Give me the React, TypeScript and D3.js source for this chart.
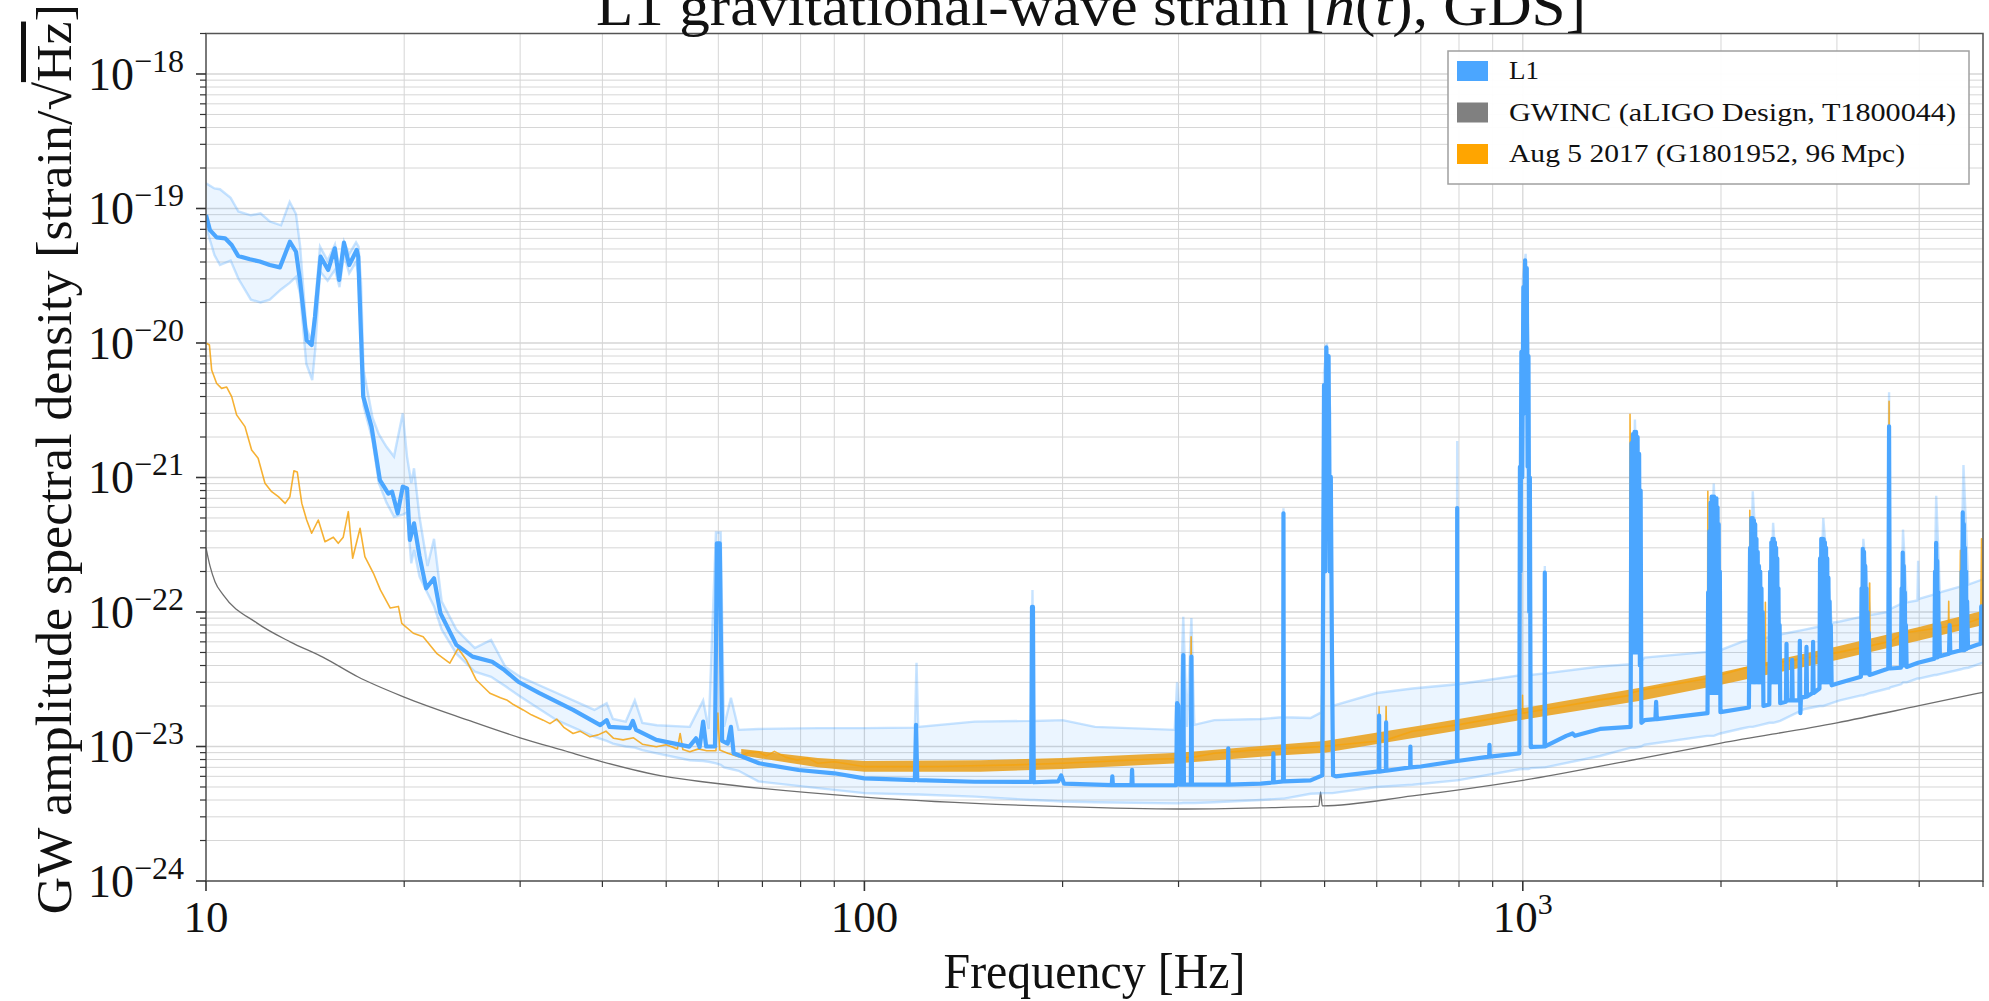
import React from "react";
import * as d3 from "d3";

type P = [number, number];
type B = [number, number, number];

const X_DOMAIN: [number, number] = [10, 5000];
const Y_DOMAIN: [number, number] = [1e-24, 2e-18];

const TITLE_PARTS = ["L1 gravitational-wave strain [", "h", "(", "t", "), GDS]"];
const X_LABEL = "Frequency [Hz]";
const Y_LABEL_MAIN = "GW amplitude spectral density [strain/\u221A";
const Y_LABEL_ROOT = "Hz";
const Y_LABEL_END = "]";
const LEGEND_LABELS = ["L1", "GWINC (aLIGO Design, T1800044)", "Aug 5 2017 (G1801952, 96\u2009Mpc)"];
const LEGEND_COLORS = ["#4ba6ff", "#808080", "#ffa500"];

const X_TICK_VALUES = [10, 100, 1000];
const X_TICK_BASE = ["10", "100", "10"];
const X_TICK_SUP = ["", "", "3"];
const Y_TICK_EXP = [-24, -23, -22, -21, -20, -19, -18];

// GWINC design curve
const gwinc: P[] = [
  [10, 3.0e-22], [10.14, 2.2e-22], [10.32, 1.68e-22], [10.62, 1.34e-22], [11.94, 8.3e-23],
  [13.42, 6.0e-23], [15.07, 4.6e-23], [17, 3.3e-23], [20, 2.33e-23], [25, 1.57e-23],
  [30, 1.16e-23], [35, 9.3e-24], [40, 7.7e-24], [50, 5.96e-24], [58, 5.4e-24],
  [100, 4.2e-24], [200, 3.57e-24], [300, 3.43e-24], [400, 3.5e-24], [490, 3.6e-24],
  [493, 4.6e-24], [496, 3.62e-24], [680, 4.29e-24], [1000, 5.6e-24], [1500, 8.1e-24],
  [2000, 1.06e-23], [3000, 1.5e-23], [4000, 2.01e-23], [5000, 2.53e-23],
];

// Reference (Aug 5 2017) curve
const reference: P[] = [
  [10, 1.0e-20], [10.12, 9.66e-21], [10.2, 6.3e-21], [10.38, 5.0e-21], [10.56, 4.6e-21],
  [10.75, 4.7e-21], [10.94, 3.99e-21], [11.13, 2.92e-21], [11.46, 2.39e-21], [11.73, 1.6e-21],
  [12.0, 1.39e-21], [12.29, 9.06e-22], [12.58, 7.84e-22], [12.88, 7.2e-22], [13.19, 6.42e-22],
  [13.41, 7.2e-22], [13.6, 1.12e-21], [13.76, 1.1e-21], [13.98, 6.42e-22], [14.22, 4.83e-22],
  [14.47, 3.85e-22], [14.81, 4.83e-22], [15.16, 3.33e-22], [15.61, 3.6e-22], [15.88, 3.24e-22],
  [16.16, 3.6e-22], [16.45, 5.57e-22], [16.7, 2.51e-22], [17.14, 4.19e-22], [17.43, 2.58e-22],
  [17.96, 1.94e-22], [18.4, 1.46e-22], [19.05, 1.07e-22], [19.6, 1.1e-22], [19.83, 8.24e-23],
  [20.65, 6.95e-23], [21.37, 6.55e-23], [22.4, 4.93e-23], [23.46, 4.16e-23], [24.15, 5.37e-23],
  [24.85, 4.4e-23], [25.74, 3.12e-23], [26.99, 2.49e-23], [28.0, 2.3e-23], [28.62, 2.22e-23],
  [29.3, 2.05e-23], [30.32, 1.87e-23], [31.2, 1.72e-23], [32.52, 1.57e-23], [33.3, 1.48e-23],
  [34.1, 1.6e-23], [35.0, 1.38e-23], [36.1, 1.25e-23], [37.0, 1.3e-23], [38.3, 1.18e-23],
  [39.4, 1.22e-23], [40.5, 1.3e-23], [41.6, 1.15e-23], [43.0, 1.12e-23], [44.6, 1.16e-23],
  [46.0, 1.04e-23], [48.3, 9.97e-24], [50.0, 1.03e-23], [52.0, 9.6e-24], [52.5, 1.25e-23],
  [53.0, 9.5e-24], [54.3, 9.14e-24], [56.0, 9.6e-24], [57.6, 9.3e-24], [59.5, 9.3e-24],
  [59.9, 1.77e-23], [60.3, 9.4e-24], [62.0, 8.9e-24], [64.4, 8.4e-24], [66.5, 9.0e-24],
  [69, 9.1e-24], [71, 8.5e-24], [73, 9.2e-24], [76, 8.3e-24], [79, 7.94e-24],
  [82, 8.2e-24], [85, 7.5e-24], [90, 7.7e-24], [100, 7.08e-24], [129, 7.1e-24],
  [170, 7.3e-24], [200, 7.5e-24], [257, 7.94e-24], [296, 8.15e-24], [312.5, 8.3e-24],
  [313.5, 6.55e-23], [314.5, 8.3e-24], [340, 8.9e-24], [390, 9.4e-24], [476, 9.9e-24],
  [494, 1.0e-23], [495, 2.4e-23], [496, 1.0e-23], [604, 1.1e-23], [605, 1.98e-23],
  [606, 1.1e-23], [619, 1.12e-23], [620, 1.98e-23], [621, 1.12e-23], [680, 1.3e-23],
  [805, 1.46e-23], [990, 1.76e-23], [998, 1.77e-23], [999, 2.4e-23], [1000, 1.77e-23],
  [1310, 2.22e-23], [1453, 2.4e-23], [1455, 2.95e-21], [1457, 1.3e-21], [1459, 2.5e-23],
  [1531, 2.65e-23], [1888, 3.18e-23], [1908, 3.2e-23], [1910, 7.9e-22], [1912, 3.2e-23],
  [2190, 3.87e-23], [2210, 3.9e-23], [2212, 5.7e-22], [2215, 3.9e-23], [2333, 4.0e-23],
  [2336, 1.18e-22], [2339, 4.05e-23], [3030, 5.03e-23], [3360, 5.6e-23], [3364, 1.64e-22],
  [3368, 5.6e-23], [3590, 6.0e-23], [3600, 3.68e-21], [3610, 6.0e-23], [3790, 6.98e-23],
  [4430, 7.8e-23], [4435, 1.2e-22], [4440, 7.8e-23], [4610, 8.0e-23], [4620, 2.87e-22],
  [4630, 8.0e-23], [4960, 9.0e-23], [4975, 3.5e-22], [4990, 9.0e-23], [5000, 9.08e-23],
];

// Reference noise envelope above ~65 Hz (frequency, low, high)
const referenceSpread: B[] = [
  [65, 8.6e-24, 9.6e-24], [85, 7.0e-24, 8.2e-24], [100, 6.5e-24, 7.8e-24],
  [150, 6.5e-24, 7.9e-24], [200, 6.8e-24, 8.2e-24], [300, 7.5e-24, 9.0e-24],
  [400, 8.4e-24, 1.01e-23], [500, 9.0e-24, 1.1e-23], [700, 1.18e-23, 1.43e-23],
  [1000, 1.58e-23, 1.93e-23], [1500, 2.18e-23, 2.72e-23], [2000, 2.88e-23, 3.57e-23],
  [3000, 4.4e-23, 5.55e-23], [4000, 6.15e-23, 7.75e-23], [5000, 8.0e-23, 1.02e-22],
];

// L1 percentile band (frequency, low, high)
const l1Band: B[] = [
  [10, 7.3e-20, 1.54e-19], [10.3, 4.5e-20, 1.41e-19], [10.5, 3.8e-20, 1.39e-19],
  [10.9, 4.1e-20, 1.2e-19], [11.2, 3.0e-20, 9.5e-20], [11.7, 2.1e-20, 8.9e-20],
  [12.1, 2.0e-20, 9.2e-20], [12.5, 2.1e-20, 8.0e-20], [13.0, 2.5e-20, 7.5e-20],
  [13.4, 2.8e-20, 1.12e-19], [13.7, 3.1e-20, 9.1e-20], [13.9, 2.3e-20, 5.2e-20],
  [14.2, 7.0e-21, 1.3e-20], [14.5, 5.3e-21, 1.0e-20], [14.65, 8.9e-21, 2.0e-20],
  [14.9, 3.4e-20, 5.2e-20], [15.3, 2.9e-20, 4.1e-20], [15.7, 3.5e-20, 5.4e-20],
  [15.95, 2.6e-20, 3.6e-20], [16.2, 4.5e-20, 5.7e-20], [16.5, 3.3e-20, 4.6e-20],
  [16.9, 4.0e-20, 5.6e-20], [17.05, 3.2e-20, 5.2e-20], [17.2, 1.2e-20, 2.8e-20],
  [17.35, 3.4e-21, 6.3e-21], [17.9, 1.9e-21, 2.8e-21], [18.3, 9.1e-22, 2.1e-21],
  [18.8, 6.5e-22, 1.69e-21], [19.3, 5.1e-22, 1.43e-21], [19.9, 5.3e-22, 3.0e-21],
  [20.2, 5.5e-22, 1.43e-21], [20.5, 2.3e-22, 9.1e-22], [20.7, 2.9e-22, 1.17e-21],
  [21.1, 1.83e-22, 5.1e-22], [21.7, 1.38e-22, 2.2e-22], [22.2, 1.1e-22, 3.5e-22],
  [22.8, 7.4e-23, 1.2e-22], [24.0, 4.9e-23, 7.4e-23], [25.6, 3.6e-23, 5.4e-23],
  [27.1, 3.3e-23, 6.2e-23], [28.5, 2.8e-23, 3.9e-23], [30.0, 2.35e-23, 3.3e-23],
  [34.1, 1.57e-23, 2.5e-23], [38.9, 1.18e-23, 1.87e-23], [40.6, 1.1e-23, 2.1e-23],
  [41.5, 1.05e-23, 1.6e-23], [43.4, 1.0e-23, 1.53e-23], [44.8, 9.8e-24, 2.2e-23],
  [46, 9.4e-24, 1.5e-23], [48.4, 8.9e-24, 1.44e-23], [54.3, 7.9e-24, 1.4e-23],
  [56.9, 7.8e-24, 2.2e-23], [58, 7.7e-24, 1.35e-23], [59.5, 7.5e-24, 3.9e-22],
  [60.5, 7.3e-24, 3.9e-22], [61.2, 7.0e-24, 1.4e-23], [62.7, 6.8e-24, 2.3e-23],
  [64.4, 6.6e-24, 1.33e-23], [69, 5.5e-24, 1.35e-23], [85, 4.9e-24, 1.37e-23],
  [100, 4.5e-24, 1.37e-23], [119.3, 4.4e-24, 1.38e-23], [120, 4.4e-24, 4.2e-23],
  [120.7, 4.4e-24, 1.4e-23], [147, 4.24e-24, 1.53e-23], [179, 4.0e-24, 1.55e-23],
  [180, 4.0e-24, 1.46e-22], [181, 4.0e-24, 1.55e-23], [200, 3.9e-24, 1.57e-23],
  [224, 3.85e-24, 1.4e-23], [296, 3.78e-24, 1.33e-23], [298.5, 3.78e-24, 3.0e-23],
  [301, 3.78e-24, 1.35e-23], [305, 3.8e-24, 9.2e-23], [309, 3.8e-24, 1.4e-23],
  [313.8, 3.8e-24, 9.0e-23], [317, 3.8e-24, 1.45e-23], [340, 3.85e-24, 1.57e-23],
  [400, 4.0e-24, 1.6e-23], [432, 4.1e-24, 1.65e-23], [433, 4.1e-24, 5.9e-22],
  [434, 4.1e-24, 1.65e-23], [476, 4.45e-24, 1.63e-23], [495, 4.49e-24, 1.8e-23],
  [499, 4.5e-24, 6e-21], [504, 4.5e-24, 9.9e-21], [510, 4.5e-24, 3e-21],
  [514, 4.5e-24, 2.0e-23], [600, 5.0e-24, 2.5e-23], [680, 5.19e-24, 2.7e-23],
  [794, 5.6e-24, 2.9e-23], [795, 5.6e-24, 1.87e-21], [796, 5.6e-24, 2.9e-23],
  [988, 6.78e-24, 3.38e-23], [1000, 6.8e-24, 3.0e-20], [1010, 6.8e-24, 4.6e-20],
  [1020, 6.8e-24, 1e-20], [1028, 6.9e-24, 3.4e-23], [1079, 7.0e-24, 3.5e-23],
  [1080, 7.0e-24, 2.2e-22], [1081, 7.0e-24, 3.5e-23], [1310, 8.5e-24, 3.93e-23],
  [1460, 9.8e-24, 4.1e-23], [1480, 9.8e-24, 2.7e-21], [1512, 1.0e-23, 4.3e-23],
  [1531, 1.03e-23, 4.58e-23], [1905, 1.2e-23, 5.04e-23], [1950, 1.2e-23, 9e-22],
  [1995, 1.25e-23, 5.2e-23], [2150, 1.36e-23, 6.0e-23], [2210, 1.4e-23, 6.2e-23],
  [2235, 1.4e-23, 7.9e-22], [2300, 1.45e-23, 6.3e-23], [2370, 1.5e-23, 6.5e-23],
  [2400, 1.5e-23, 4.6e-22], [2460, 1.55e-23, 6.8e-23], [2680, 1.9e-23, 7.4e-23],
  [2825, 2.0e-23, 7.8e-23], [2860, 2.0e-23, 5e-22], [2945, 2.1e-23, 8.3e-23],
  [3030, 2.2e-23, 8.5e-23], [3265, 2.4e-23, 9.2e-23], [3290, 2.4e-23, 3.5e-22],
  [3370, 2.5e-23, 9.5e-23], [3585, 2.7e-23, 1.0e-22], [3600, 2.7e-23, 4.3e-21],
  [3615, 2.75e-23, 1.05e-22], [3755, 2.9e-23, 1.15e-22], [3780, 3.0e-23, 4.1e-22],
  [3830, 3.0e-23, 1.18e-22], [3975, 3.2e-23, 1.22e-22], [3985, 3.2e-23, 2.4e-22],
  [3995, 3.2e-23, 1.25e-22], [4220, 3.4e-23, 1.35e-22], [4245, 3.4e-23, 7.3e-22],
  [4300, 3.45e-23, 1.4e-22], [4630, 3.75e-23, 1.55e-22], [4670, 3.8e-23, 1.24e-21],
  [4750, 3.85e-23, 1.6e-22], [5000, 4.2e-23, 1.75e-22],
];

// L1 median ASD
const l1Median: P[] = [
  [10, 8.95e-20], [10.14, 6.9e-20], [10.38, 6.1e-20], [10.69, 6.0e-20], [10.94, 5.35e-20],
  [11.19, 4.44e-20], [11.66, 4.19e-20], [12.07, 4.03e-20], [12.5, 3.8e-20], [12.95, 3.65e-20],
  [13.41, 5.66e-20], [13.7, 4.77e-20], [13.89, 2.94e-20], [14.22, 1.05e-20], [14.47, 9.66e-21],
  [14.64, 1.57e-20], [14.93, 4.38e-20], [15.33, 3.49e-20], [15.69, 5.06e-20], [15.93, 2.94e-20],
  [16.2, 5.57e-20], [16.5, 3.8e-20], [16.94, 4.91e-20], [17.03, 4.38e-20], [17.33, 3.99e-21],
  [17.84, 2.39e-21], [18.37, 9.57e-22], [18.92, 7.6e-22], [19.17, 7.84e-22], [19.55, 5.42e-22],
  [19.9, 8.55e-22], [20.2, 8.3e-22], [20.4, 3.43e-22], [20.7, 4.56e-22], [21.1, 2.6e-22],
  [21.6, 1.5e-22], [22.2, 1.78e-22], [22.7, 9.8e-23], [24.0, 5.7e-23], [25.4, 4.66e-23],
  [27.2, 4.27e-23], [28.4, 3.7e-23], [29.8, 3.03e-23], [32.1, 2.49e-23], [36.1, 1.87e-23],
  [39.7, 1.44e-23], [40.6, 1.57e-23], [41.0, 1.4e-23], [44.0, 1.37e-23], [44.5, 1.55e-23],
  [45.0, 1.33e-23], [48.3, 1.12e-23], [54.2, 9.97e-24], [55.5, 1.15e-23], [56.2, 9.9e-24],
  [56.9, 1.53e-23], [57.5, 1.0e-23], [59.3, 1.0e-23], [59.7, 3.24e-22], [60.3, 3.24e-22],
  [60.8, 1.1e-23], [62.0, 1.05e-23], [62.7, 1.4e-23], [63.3, 8.9e-24], [69.2, 7.5e-24],
  [79.4, 6.69e-24], [90, 6.32e-24], [100, 5.8e-24], [119.3, 5.63e-24], [119.8, 1.45e-23],
  [120.3, 5.63e-24], [147, 5.47e-24], [179.2, 5.45e-24], [179.7, 1.09e-22], [180.3, 1.09e-22],
  [180.8, 5.42e-24], [197, 5.5e-24], [199, 6.1e-24], [201, 5.3e-24], [237.5, 5.17e-24],
  [238, 6.0e-24], [238.5, 5.17e-24], [254.5, 5.17e-24], [255, 6.7e-24], [255.5, 5.16e-24],
  [297.5, 5.15e-24], [298.5, 2.1e-23], [300, 2.0e-23], [301, 5.2e-24], [304.3, 5.2e-24],
  [305, 4.79e-23], [305.7, 5.2e-24], [313.2, 5.2e-24], [313.8, 4.66e-23], [314.4, 5.2e-24],
  [356.5, 5.2e-24], [357, 9.7e-24], [357.5, 5.2e-24], [400, 5.3e-24], [417.5, 5.4e-24],
  [418, 8.9e-24], [418.5, 5.4e-24], [432.5, 5.5e-24], [433, 5.42e-22], [433.5, 5.5e-24],
  [476, 5.6e-24], [496, 6.1e-24], [499, 4.87e-21], [501, 2e-22], [503, 9.3e-21],
  [505, 5e-22], [507, 8e-21], [509, 2e-22], [511, 1.01e-21], [513, 5e-23],
  [515, 6.1e-24], [520, 6.0e-24], [600, 6.5e-24], [604.5, 6.5e-24], [605, 1.7e-23],
  [605.5, 6.5e-24], [619.5, 6.6e-24], [620, 1.51e-23], [620.5, 6.6e-24], [674.5, 7.0e-24],
  [675, 9.97e-24], [675.5, 7.0e-24], [700, 7.1e-24], [794.5, 7.8e-24], [795, 5.93e-22],
  [795.5, 7.8e-24], [889, 8.4e-24], [890, 1.03e-23], [891, 8.4e-24], [988, 8.9e-24],
  [990, 1.2e-21], [992, 2e-22], [995, 8.6e-21], [998, 1e-21], [1002, 2.6e-20],
  [1005, 3e-21], [1008, 4.12e-20], [1011, 5e-21], [1014, 3.6e-20], [1017, 1.2e-21],
  [1020, 8e-21], [1023, 1e-22], [1025, 1.0e-21], [1028, 9.9e-24], [1037, 9.93e-24],
  [1079, 1.0e-23], [1080, 1.96e-22], [1081, 1.0e-23], [1164, 1.2e-23], [1190, 1.25e-23],
  [1200, 1.2e-23], [1310, 1.35e-23], [1458, 1.4e-23], [1462, 1.8e-21], [1466, 5e-23],
  [1470, 2.1e-21], [1474, 5e-23], [1478, 2.18e-21], [1482, 5e-23], [1486, 2.18e-21],
  [1490, 5e-23], [1494, 2.0e-21], [1498, 5e-23], [1502, 1.5e-21], [1506, 4e-23],
  [1510, 8e-22], [1514, 1.5e-23], [1531, 1.57e-23], [1590, 1.6e-23], [1594, 2.15e-23],
  [1598, 1.6e-23], [1908, 1.77e-23], [1912, 1.4e-22], [1916, 2.5e-23], [1920, 4e-22],
  [1924, 2.5e-23], [1928, 6.5e-22], [1932, 2.5e-23], [1936, 7.2e-22], [1940, 2.5e-23],
  [1944, 7.2e-22], [1948, 2.5e-23], [1952, 7.2e-22], [1956, 2.5e-23], [1960, 7.0e-22],
  [1964, 2.5e-23], [1968, 7.0e-22], [1972, 2.5e-23], [1976, 6e-22], [1980, 2.5e-23],
  [1984, 4.5e-22], [1988, 2.5e-23], [1992, 2e-22], [1996, 1.8e-23], [2205, 1.95e-23],
  [2214, 3e-22], [2219, 3e-23], [2224, 5e-22], [2229, 3e-23], [2234, 5e-22],
  [2239, 3e-23], [2244, 4.8e-22], [2249, 3e-23], [2254, 4.5e-22], [2259, 3e-23],
  [2264, 3.5e-22], [2269, 3e-23], [2274, 2.8e-22], [2279, 3e-23], [2284, 2.2e-22],
  [2289, 3e-23], [2294, 2e-22], [2299, 3e-23], [2304, 1.5e-22], [2309, 3e-23],
  [2314, 1e-22], [2320, 2.0e-23], [2368, 2.05e-23], [2375, 2e-22], [2380, 3e-23],
  [2385, 3.3e-22], [2390, 3e-23], [2395, 3.5e-22], [2400, 3e-23], [2405, 3.5e-22],
  [2410, 3e-23], [2415, 3.3e-22], [2420, 3e-23], [2425, 3e-22], [2430, 3e-23],
  [2435, 2.5e-22], [2440, 3e-23], [2445, 1.5e-22], [2450, 3e-23], [2455, 8e-23],
  [2460, 2.1e-23], [2510, 2.15e-23], [2515, 5.8e-23], [2520, 2.2e-23], [2560, 2.2e-23],
  [2565, 4.4e-23], [2570, 2.2e-23], [2630, 2.2e-23], [2635, 6.1e-23], [2640, 1.77e-23],
  [2645, 2.3e-23], [2692, 2.35e-23], [2697, 5.5e-23], [2702, 2.35e-23], [2755, 2.5e-23],
  [2760, 6.0e-23], [2765, 2.5e-23], [2822, 2.7e-23], [2828, 2.5e-22], [2834, 3e-23],
  [2840, 3.5e-22], [2846, 3e-23], [2852, 3.5e-22], [2858, 3e-23], [2864, 3.49e-22],
  [2870, 3e-23], [2876, 3.3e-22], [2882, 3e-23], [2888, 3e-22], [2894, 3e-23],
  [2900, 2.5e-22], [2906, 3e-23], [2912, 1.8e-22], [2918, 3e-23], [2924, 1.2e-22],
  [2930, 3e-23], [2936, 8e-23], [2945, 2.85e-23], [3030, 2.98e-23], [3262, 3.3e-23],
  [3270, 1.5e-22], [3277, 3.5e-23], [3284, 2.95e-22], [3291, 3.5e-23], [3298, 2.8e-22],
  [3305, 3.5e-23], [3312, 2.2e-22], [3319, 3.5e-23], [3326, 1.5e-22], [3333, 3.5e-23],
  [3340, 1.0e-22], [3347, 3.5e-23], [3354, 7e-23], [3362, 3.4e-23], [3566, 3.75e-23],
  [3590, 3.8e-23], [3600, 2.4e-21], [3610, 3.8e-23], [3752, 3.85e-23], [3762, 1.5e-22],
  [3769, 4e-23], [3776, 2.77e-22], [3783, 4e-23], [3790, 2.2e-22], [3797, 4e-23],
  [3804, 1.4e-22], [3811, 4e-23], [3818, 8e-23], [3828, 3.9e-23], [3985, 4.2e-23],
  [4220, 4.5e-23], [4228, 2e-22], [4236, 4.6e-23], [4244, 3.26e-22], [4252, 4.6e-23],
  [4260, 2.4e-22], [4268, 4.6e-23], [4276, 1.4e-22], [4284, 4.7e-23], [4292, 8e-23],
  [4300, 4.7e-23], [4440, 4.9e-23], [4450, 8e-23], [4460, 4.95e-23], [4630, 5.2e-23],
  [4640, 2e-22], [4649, 5.2e-23], [4658, 5.5e-22], [4667, 5.2e-23], [4676, 4.5e-22],
  [4685, 5.2e-23], [4694, 3e-22], [4703, 5.3e-23], [4712, 2e-22], [4721, 5.3e-23],
  [4730, 1.2e-22], [4745, 5.4e-23], [4900, 5.7e-23], [4960, 5.8e-23], [4970, 1.1e-22],
  [4980, 5.85e-23], [5000, 5.9e-23],
];

const FONT = "'Liberation Serif', 'DejaVu Serif', 'Times New Roman', serif";
const W = 1989;
const H = 1001;
const PLOT = { left: 206, right: 1983, top: 33.5, bottom: 881 };

export default function App() {
  const x = d3.scaleLog().domain(X_DOMAIN).range([PLOT.left, PLOT.right]);
  const y = d3.scaleLog().domain(Y_DOMAIN).range([PLOT.bottom, PLOT.top]);

  const line = d3.line<P>().x((d) => x(d[0])).y((d) => y(d[1]));
  const smoothLine = d3
    .line<P>()
    .x((d) => x(d[0]))
    .y((d) => y(d[1]))
    .curve(d3.curveMonotoneX);
  const bandArea = d3
    .area<B>()
    .x((d) => x(d[0]))
    .y0((d) => y(d[1]))
    .y1((d) => y(d[2]));
  const lowLine = d3.line<B>().x((d) => x(d[0])).y((d) => y(d[1]));
  const highLine = d3.line<B>().x((d) => x(d[0])).y((d) => y(d[2]));

  const isMajor = (v: number) => {
    const m = v / Math.pow(10, Math.floor(Math.log10(v) + 1e-9));
    return Math.abs(m - 1) < 1e-6;
  };
  const xTicks = x.ticks();
  const yTicks = y.ticks();

  const axisColor = "#333";
  const gridColor = "#d6d6d6";

  const legendX = 1448;
  const legendY = 51;
  const legendW = 521;
  const legendH = 133;
  const rowStep = 41.5;

  return (
    <svg
      width={W}
      height={H}
      viewBox={`0 0 ${W} ${H}`}
      style={{ position: "absolute", left: 0, top: 0, background: "#fff" }}
      fontFamily={FONT}
    >
      <defs>
        <clipPath id="plotClip">
          <rect x={PLOT.left} y={PLOT.top} width={PLOT.right - PLOT.left} height={PLOT.bottom - PLOT.top} />
        </clipPath>
      </defs>
      <rect x={0} y={0} width={W} height={H} fill="#fff" />

      {/* grid */}
      <g>
        {xTicks.map((t, i) => (
          <line
            key={"gx" + i}
            x1={x(t)}
            x2={x(t)}
            y1={PLOT.top}
            y2={PLOT.bottom}
            stroke={gridColor}
            strokeWidth={isMajor(t) ? 1.3 : 1}
          />
        ))}
        {yTicks.map((t, i) => (
          <line
            key={"gy" + i}
            x1={PLOT.left}
            x2={PLOT.right}
            y1={y(t)}
            y2={y(t)}
            stroke={gridColor}
            strokeWidth={isMajor(t) ? 1.3 : 1}
          />
        ))}
      </g>

      <g clipPath="url(#plotClip)">
        {/* GWINC */}
        <path d={smoothLine(gwinc) || ""} fill="none" stroke="#6e6e6e" strokeWidth={1.3} />
        {/* L1 band */}
        <path d={bandArea(l1Band) || ""} fill="#4ba6ff" fillOpacity={0.11} stroke="none" />
        <path d={lowLine(l1Band) || ""} fill="none" stroke="#4ba6ff" strokeOpacity={0.3} strokeWidth={2.4} />
        <path d={highLine(l1Band) || ""} fill="none" stroke="#4ba6ff" strokeOpacity={0.3} strokeWidth={2.4} />
        {/* Reference */}
        <path d={bandArea(referenceSpread) || ""} fill="#e9a11d" fillOpacity={0.88} stroke="none" />
        <path
          d={line(reference) || ""}
          fill="none"
          stroke="#f5a30f"
          strokeOpacity={0.85}
          strokeWidth={1.6}
          strokeLinejoin="round"
        />
        {/* L1 median */}
        <path
          d={line(l1Median) || ""}
          fill="none"
          stroke="#4ba6ff"
          strokeWidth={4.2}
          strokeLinejoin="round"
        />
      </g>

      {/* frame */}
      <rect
        x={PLOT.left}
        y={PLOT.top}
        width={PLOT.right - PLOT.left}
        height={PLOT.bottom - PLOT.top}
        fill="none"
        stroke="#555"
        strokeWidth={1.5}
      />

      {/* ticks */}
      <g stroke={axisColor}>
        {xTicks.map((t, i) => (
          <line
            key={"tx" + i}
            x1={x(t)}
            x2={x(t)}
            y1={PLOT.bottom}
            y2={PLOT.bottom + (isMajor(t) ? 10 : 6)}
            strokeWidth={isMajor(t) ? 1.6 : 1.2}
          />
        ))}
        {yTicks.map((t, i) => (
          <line
            key={"ty" + i}
            x1={PLOT.left - (isMajor(t) ? 10 : 6)}
            x2={PLOT.left}
            y1={y(t)}
            y2={y(t)}
            strokeWidth={isMajor(t) ? 1.6 : 1.2}
          />
        ))}
      </g>

      {/* x tick labels */}
      <g fill="#111" fontSize={45}>
        {X_TICK_VALUES.map((v, i) => (
          <text key={"xl" + i} x={x(v)} y={PLOT.bottom + 51} textAnchor="middle">
            {X_TICK_BASE[i]}
            {X_TICK_SUP[i] ? (
              <tspan dy={-18} fontSize={30}>
                {X_TICK_SUP[i]}
              </tspan>
            ) : null}
          </text>
        ))}
      </g>

      {/* y tick labels */}
      <g fill="#111" fontSize={46}>
        {Y_TICK_EXP.map((e, i) => (
          <text key={"yl" + i} x={184} y={y(Math.pow(10, e)) + 16} textAnchor="end">
            10
            <tspan dy={-18} fontSize={32}>
              {"\u2212" + Math.abs(e)}
            </tspan>
          </text>
        ))}
      </g>

      {/* axis labels */}
      <text
        x={(PLOT.left + PLOT.right) / 2}
        y={988}
        textAnchor="middle"
        fontSize={50}
        fill="#111"
        textLength={302}
        lengthAdjust="spacingAndGlyphs"
      >
        {X_LABEL}
      </text>
      <text
        transform={`translate(71, ${(PLOT.top + PLOT.bottom) / 2 + 2}) rotate(-90)`}
        textAnchor="middle"
        fontSize={50}
        fill="#111"
        textLength={910}
        lengthAdjust="spacingAndGlyphs"
      >
        {Y_LABEL_MAIN}
        <tspan style={{ textDecoration: "overline" }}>{Y_LABEL_ROOT}</tspan>
        {Y_LABEL_END}
      </text>

      {/* title */}
      <text
        x={1091}
        y={25}
        textAnchor="middle"
        fontSize={56}
        fill="#111"
        textLength={990}
        lengthAdjust="spacingAndGlyphs"
      >
        {TITLE_PARTS[0]}
        <tspan fontStyle="italic">{TITLE_PARTS[1]}</tspan>
        {TITLE_PARTS[2]}
        <tspan fontStyle="italic">{TITLE_PARTS[3]}</tspan>
        {TITLE_PARTS[4]}
      </text>

      {/* legend */}
      <g>
        <rect
          x={legendX}
          y={legendY}
          width={legendW}
          height={legendH}
          fill="#fff"
          fillOpacity={0.95}
          stroke="#a0a0a0"
          strokeWidth={1.5}
        />
        {LEGEND_LABELS.map((lab, i) => (
          <g key={"lg" + i}>
            <rect x={legendX + 9} y={legendY + 10 + i * rowStep} width={31} height={20} fill={LEGEND_COLORS[i]} />
            <text
              x={legendX + 61}
              y={legendY + 28 + i * rowStep}
              fontSize={26}
              fill="#111"
              textLength={i === 0 ? 30 : i === 1 ? 447 : 396}
              lengthAdjust="spacingAndGlyphs"
            >
              {lab}
            </text>
          </g>
        ))}
      </g>
    </svg>
  );
}
